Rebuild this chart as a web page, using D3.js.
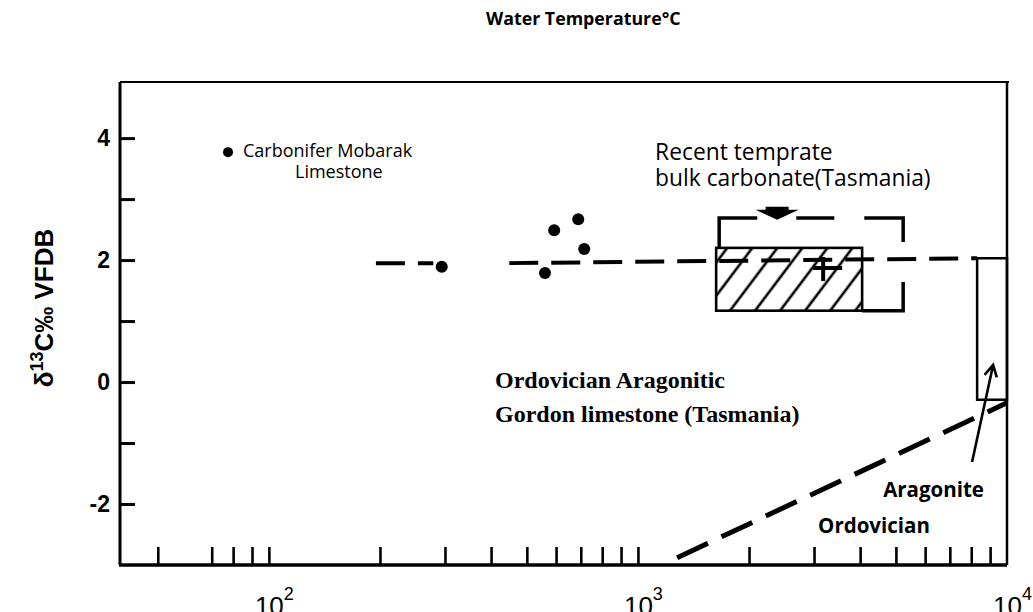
<!DOCTYPE html>
<html>
<head>
<meta charset="utf-8">
<script src="https://cdn.jsdelivr.net/npm/d3@7"></script>
<style>
  body { margin: 0; background: #fff; }
  svg { display: block; }
</style>
</head>
<body>
<script>
// ticks
const xTicks = [50, 70, 80, 90, 100, 200, 300, 400, 500, 600, 700, 800, 900, 1000,
    2000, 3000, 4000, 5000, 6000, 7000, 8000, 9000];
const xDecades = [100, 1000, 10000];
const yTicks = [-2, -1, 0, 1, 2, 3, 4];
const yLabelled = [-2, 0, 2, 4];

// data (x: log, y: d13C)
const carbonifer = [[77.5, 3.77]];
const gordonPoints = [[294, 1.89], [560, 1.79], [593, 2.49], [689, 2.67], [715, 2.18]];
const trendLeft = [[195, 1.95], [279, 1.95]];
const trendRight = [[448, 1.95], [8300, 2.03]];
const hatchX = [1629, 4050], hatchY = [1.17, 2.20];
const bracket = [[1660, 2.20], [1660, 2.69], [5232, 2.69], [5232, 1.17], [4050, 1.17]];
const recentMean = [3176, 1.87];
const recentArrow = [2383, 2.66];
const aragX = [8300, 10000], aragY = [-0.29, 2.03];
const ordovicianTrend = [[1277, -2.88], [10000, -0.34]];
const aragArrow = [[8042, -1.31], [9170, 0.28]];

const W = 1033, H = 612;

const x = d3.scaleLog().domain([39.5, 10000]).range([120, 1007]);
const y = d3.scaleLinear().domain([-3, 4.92]).range([565, 82]);

const svg = d3.select("body").append("svg")
    .attr("width", W)
    .attr("height", H);

const defs = svg.append("defs");
const pat = defs.append("pattern")
    .attr("id", "hatch")
    .attr("patternUnits", "userSpaceOnUse")
    .attr("width", 20)
    .attr("height", 20)
    .attr("patternTransform", "rotate(37)");
pat.append("line")
    .attr("x1", 10).attr("x2", 10)
    .attr("y1", 0).attr("y2", 20)
    .attr("stroke", "#000")
    .attr("stroke-width", 2.6);

const line = d3.line().x(d => x(d[0])).y(d => y(d[1]));

// title
svg.append("text")
    .attr("x", 486)
    .attr("y", 25)
    .style("font-family", "'Open Sans', sans-serif")
    .style("font-weight", "bold")
    .style("font-size", "17.8px")
    .text("Water Temperature°C");

// axes
const yAxis = d3.axisLeft(y)
    .tickValues(yTicks)
    .tickSize(-15)
    .tickPadding(10)
    .tickFormat(d => yLabelled.includes(d) ? d : "");

const gy = svg.append("g")
    .attr("transform", "translate(" + x.range()[0] + ",0)")
    .call(yAxis);
gy.select(".domain").remove();
gy.selectAll("line").attr("stroke-width", 3);
gy.selectAll("text")
    .style("font-family", "'Liberation Sans', Arial, sans-serif")
    .style("font-weight", "bold")
    .style("font-size", "23px")
    .attr("fill", "#000");

const xAxis = d3.axisBottom(x)
    .tickValues(xTicks)
    .tickSize(-18)
    .tickFormat("");

const gx = svg.append("g")
    .attr("transform", "translate(0," + y.range()[0] + ")")
    .call(xAxis);
gx.select(".domain").remove();
gx.selectAll("line").attr("stroke-width", 2.6);

const lbl = svg.append("g")
    .style("font-family", "'Liberation Sans', Arial, sans-serif");
xDecades.forEach(d => {
    const t = lbl.append("text")
        .attr("x", x(d) - 14)
        .attr("y", 615)
        .style("font-size", "26px");
    t.append("tspan").text("10");
    t.append("tspan")
        .attr("dy", -15)
        .style("font-size", "18px")
        .text(Math.round(Math.log10(d)));
});

// y axis title
const yt = svg.append("text")
    .attr("transform", "translate(53,308) rotate(-90)")
    .attr("text-anchor", "middle")
    .style("font-family", "'Liberation Sans', Arial, sans-serif")
    .style("font-weight", "bold")
    .style("font-size", "26px");
yt.append("tspan").text("δ");
yt.append("tspan").attr("dy", -10).style("font-size", "18px").text("13");
yt.append("tspan").attr("dy", 10).text("C‰ VFDB");

// frame
const [fx0, fx1] = x.range();
const [fy1, fy0] = y.range();
const frame = svg.append("g").attr("stroke", "#000").attr("fill", "none");
frame.append("line").attr("x1", fx0).attr("x2", fx0).attr("y1", fy0).attr("y2", fy1).attr("stroke-width", 3);
frame.append("line").attr("x1", fx0 - 1).attr("x2", fx1).attr("y1", fy1).attr("y2", fy1).attr("stroke-width", 3.5);
frame.append("line").attr("x1", fx0).attr("x2", fx1 + 2).attr("y1", fy0).attr("y2", fy0).attr("stroke-width", 2);
frame.append("line").attr("x1", fx1).attr("x2", fx1).attr("y1", fy0).attr("y2", fy1).attr("stroke-width", 2.5);

// recent temperate hatched box
svg.append("rect")
    .attr("x", x(hatchX[0]))
    .attr("y", y(hatchY[1]))
    .attr("width", x(hatchX[1]) - x(hatchX[0]))
    .attr("height", y(hatchY[0]) - y(hatchY[1]))
    .attr("fill", "url(#hatch)")
    .attr("stroke", "#000")
    .attr("stroke-width", 2.6);

// dashed bracket around it
svg.append("path")
    .attr("d", line(bracket))
    .attr("fill", "none")
    .attr("stroke", "#000")
    .attr("stroke-width", 3.5)
    .attr("stroke-dasharray", "68,39,38,30,63,40,80");

// dashed trend at ~2 permil
[trendLeft, trendRight].forEach(seg => {
    svg.append("path")
        .attr("d", line(seg))
        .attr("fill", "none")
        .attr("stroke", "#000")
        .attr("stroke-width", 4)
        .attr("stroke-dasharray", "29,13");
});

// ordovician aragonite box at right edge
svg.append("rect")
    .attr("x", x(aragX[0]))
    .attr("y", y(aragY[1]))
    .attr("width", x(aragX[1]) - x(aragX[0]))
    .attr("height", y(aragY[0]) - y(aragY[1]))
    .attr("fill", "none")
    .attr("stroke", "#000")
    .attr("stroke-width", 2.5);

// diagonal dashed ordovician trend
svg.append("path")
    .attr("d", line(ordovicianTrend))
    .attr("fill", "none")
    .attr("stroke", "#000")
    .attr("stroke-width", 5)
    .attr("stroke-dasharray", "34,15");

// points
svg.selectAll(".dot")
    .data(gordonPoints)
  .enter().append("circle")
    .attr("class", "dot")
    .attr("cx", d => x(d[0]))
    .attr("cy", d => y(d[1]))
    .attr("r", 6);

svg.selectAll(".carb")
    .data(carbonifer)
  .enter().append("circle")
    .attr("class", "carb")
    .attr("cx", d => x(d[0]))
    .attr("cy", d => y(d[1]))
    .attr("r", 5);

// mean cross
const mx = x(recentMean[0]), my = y(recentMean[1]);
svg.append("path")
    .attr("d", "M" + (mx - 10) + "," + my + "H" + (mx + 19) + "M" + mx + "," + (my - 11) + "V" + (my + 13))
    .attr("stroke", "#000")
    .attr("stroke-width", 4);

// block arrow pointing at the box
const ax = x(recentArrow[0]), ay = y(recentArrow[1]);
const arrowPts = [[-11.5, -13], [11.5, -13], [11.5, -10], [21.5, -10], [0, 0], [-21.5, -10], [-11.5, -10]];
svg.append("polygon")
    .attr("points", arrowPts.map(p => (ax + p[0]) + "," + (ay + p[1])).join(" "))
    .attr("fill", "#000");

// thin arrow to aragonite box
const p0 = [x(aragArrow[0][0]), y(aragArrow[0][1])];
const p1 = [x(aragArrow[1][0]), y(aragArrow[1][1])];
const ang = Math.atan2(p1[1] - p0[1], p1[0] - p0[0]);
const head = 13, spread = 0.5;
svg.append("path")
    .attr("d", "M" + p0 + "L" + p1 +
        "M" + [p1[0] - head * Math.cos(ang - spread), p1[1] - head * Math.sin(ang - spread)] +
        "L" + p1 +
        "L" + [p1[0] - head * Math.cos(ang + spread), p1[1] - head * Math.sin(ang + spread)])
    .attr("fill", "none")
    .attr("stroke", "#000")
    .attr("stroke-width", 2.6);

// annotations
const sans = "'Open Sans', sans-serif";
const cx0 = x(carbonifer[0][0]), cy0 = y(carbonifer[0][1]);
svg.append("text").attr("x", cx0 + 15).attr("y", cy0 + 5)
    .style("font-family", sans).style("font-size", "18px")
    .text("Carbonifer Mobarak");
svg.append("text").attr("x", cx0 + 67).attr("y", cy0 + 26)
    .style("font-family", sans).style("font-size", "18px")
    .text("Limestone");

const rt = svg.append("g")
    .style("font-family", sans).style("font-size", "22.8px");
rt.append("text").attr("x", x(1113)).attr("y", y(3.64)).text("Recent temprate");
rt.append("text").attr("x", x(1113)).attr("y", y(3.64) + 26).text("bulk carbonate(Tasmania)");

const gt = svg.append("g")
    .style("font-family", "'Liberation Serif', 'Times New Roman', serif")
    .style("font-weight", "bold")
    .style("font-size", "24px");
gt.append("text").attr("x", x(410)).attr("y", y(-0.10)).text("Ordovician Aragonitic");
gt.append("text").attr("x", x(410)).attr("y", y(-0.10) + 34).text("Gordon limestone (Tasmania)");

const ot = svg.append("g")
    .style("font-family", sans).style("font-weight", "bold").style("font-size", "20.5px");
ot.append("text").attr("x", x(4617)).attr("y", y(-1.88)).text("Aragonite");
ot.append("text").attr("x", x(3077)).attr("y", y(-2.47)).text("Ordovician");
</script>
</body>
</html>
